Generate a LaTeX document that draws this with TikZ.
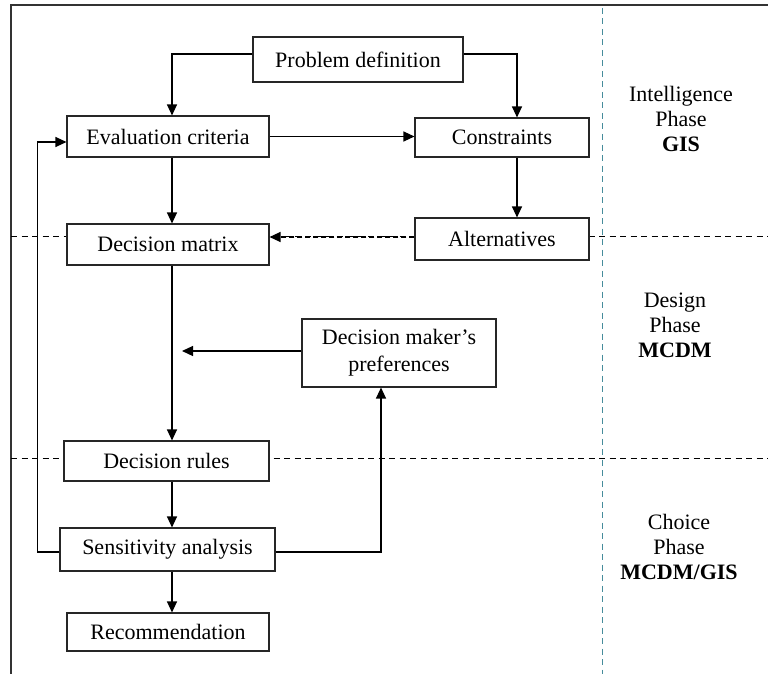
\documentclass[tikz,border=0pt]{standalone}
\usepackage{fontspec}
\setmainfont{Liberation Serif}
\usetikzlibrary{arrows.meta,calc}
\definecolor{teal1}{RGB}{70,140,155}
\begin{document}
\begin{tikzpicture}[x=1pt,y=-1pt,
  every node/.style={font=\fontsize{22}{27}\selectfont},
  box/.style={draw=black!85,line width=1.1pt,fill=white,inner sep=0pt,align=center},
  arr/.style={line width=1.2pt,-{Triangle[length=11pt,width=10pt]}},
  sep/.style={dashed,dash pattern=on 6pt off 4.5pt,line width=0.9pt},
  phase/.style={align=center,font=\fontsize{22}{25}\selectfont}]
\useasboundingbox (0,0) rectangle (768,674);
% frame
\draw[line width=1.2pt,black!80] (11,674) -- (11,5) -- (768,5);
% separators
\draw[sep] (11,236) -- (768,236);
\draw[sep] (11,458) -- (768,458);
\draw[sep,teal1,line width=1pt] (602,8) -- (602,674);
% boxes
\node[box,minimum width=210pt,minimum height=45pt] (pd) at (358,59.5) {Problem definition};
\node[box,minimum width=202pt,minimum height=41pt] (ev) at (168,136.5) {Evaluation criteria};
\node[box,minimum width=174pt,minimum height=39pt] (cons) at (502,137.5) {Constraints};
\node[box,minimum width=202pt,minimum height=41pt] (dm) at (168,244.5) {Decision matrix};
\node[box,minimum width=174pt,minimum height=42pt] (alt) at (502,239) {Alternatives};
\node[box,minimum width=194pt,minimum height=68pt] (dmp) at (399,353) {Decision maker’s\\preferences};
\node[box,minimum width=205pt,minimum height=40pt] (dr) at (166.5,461) {Decision rules};
\node[box,minimum width=215pt,minimum height=43pt] (sa) at (167.5,549.5) {Sensitivity analysis};
\node[box,minimum width=202pt,minimum height=38pt] (rec) at (168,632) {Recommendation};
% phase labels
\node[phase] (ph1) at (681,119) {Intelligence\\Phase\\\textbf{GIS}};
\node[phase] (ph2) at (675,325) {Design\\Phase\\\textbf{MCDM}};
\node[phase] (ph3) at (679,547) {Choice\\Phase\\\textbf{MCDM/GIS}};
% connectors
\draw[arr] ([yshift=5.5pt]pd.west) -| ([xshift=4pt]ev.north);
\draw[arr] ([yshift=5.5pt]pd.east) -| ([xshift=15pt]cons.north);
\draw[arr] (ev.east) -- (ev.east -| cons.west);
\draw[arr] ([xshift=4pt]ev.south) -- ([xshift=4pt]dm.north);
\draw[arr] ([xshift=15pt]cons.south) -- ([xshift=15pt]alt.north);
\draw[arr,dashed,dash pattern=on 5pt off 3pt] ([yshift=2pt]alt.west) -- ([yshift=2pt]alt.west -| dm.east);
\draw[arr] ([xshift=4pt]dm.south) -- ([xshift=4pt]dm.south |- dr.north);
\coordinate (dmpin) at (182,351);
\draw[arr] (dmp.west |- dmpin) -- (dmpin);
\draw[arr] ([xshift=4pt]dm.south |- dr.south) -- ([xshift=4pt]dm.south |- sa.north);
\draw[arr] ([xshift=4pt]dm.south |- sa.south) -- ([xshift=4pt]dm.south |- rec.north);
\draw[arr] ([yshift=-2.5pt]sa.west) -- ++(-22pt,0) |- ([yshift=-5.5pt]ev.west);
\draw[arr] ([yshift=-2.5pt]sa.east) -| ([xshift=-18pt]dmp.south);
\end{tikzpicture}
\end{document}
